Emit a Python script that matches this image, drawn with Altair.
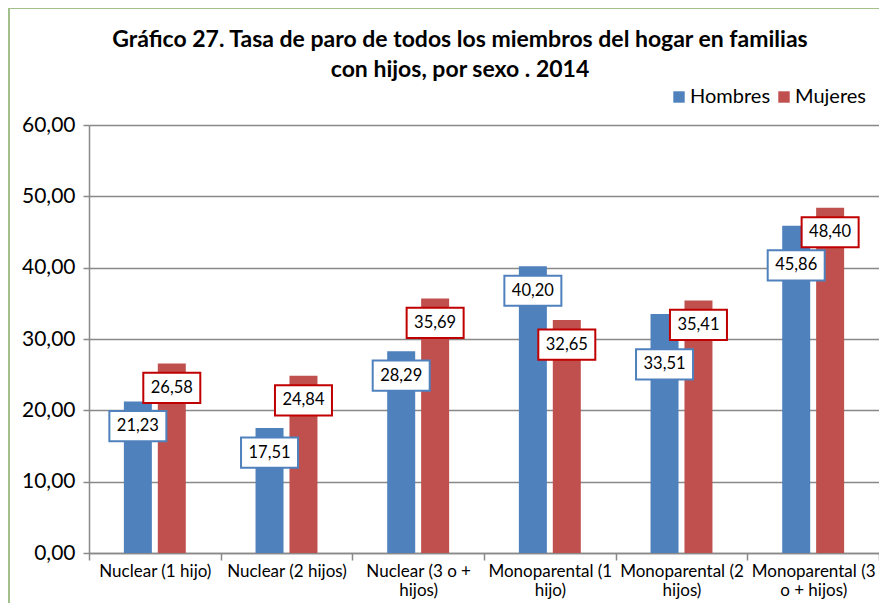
import altair as alt
import pandas as pd

# ---- data ----
categories = [
    "Nuclear (1 hijo)",
    "Nuclear (2 hijos)",
    "Nuclear (3 o + hijos)",
    "Monoparental (1 hijo)",
    "Monoparental (2 hijos)",
    "Monoparental (3 o + hijos)",
]
label_lines = {
    "Nuclear (1 hijo)": ["Nuclear (1 hijo)"],
    "Nuclear (2 hijos)": ["Nuclear (2 hijos)"],
    "Nuclear (3 o + hijos)": ["Nuclear (3 o +", "hijos)"],
    "Monoparental (1 hijo)": ["Monoparental (1", "hijo)"],
    "Monoparental (2 hijos)": ["Monoparental (2", "hijos)"],
    "Monoparental (3 o + hijos)": ["Monoparental (3", "o + hijos)"],
}
series = ["Hombres", "Mujeres"]
hombres = [21.23, 17.51, 28.29, 40.20, 33.51, 45.86]
mujeres = [26.58, 24.84, 35.69, 32.65, 35.41, 48.40]
y_ticks = [0, 10, 20, 30, 40, 50, 60]
title_lines = [
    "Gráfico 27. Tasa de paro de todos los miembros del hogar en familias",
    "con hijos, por sexo . 2014",
]

# ---- styling ----
bar_colors = ["#4F81BD", "#C0504D"]
box_colors = ["#4F81BD", "#C00000"]
FONT = "Lato"
GREY = "#898989"
PLOT_W, PLOT_H, Y_MAX = 790, 428, 60
LABEL_DROP_PX = 24.5                 # label boxes sit just inside the bar end
hombres_label_nudge_px = [0, 0, 0, 0, 26, 15]   # extra drop used in the original to avoid overlaps
mujeres_label_nudge_px = [0, 0, 0, 0, 0, 0]

rows = []
for c, h, m, nh, nm in zip(categories, hombres, mujeres,
                            hombres_label_nudge_px, mujeres_label_nudge_px):
    rows.append({"cat": c, "sexo": "Hombres", "v": h, "nudge": nh})
    rows.append({"cat": c, "sexo": "Mujeres", "v": m, "nudge": nm})
df = pd.DataFrame(rows)

px_per_unit = PLOT_H / Y_MAX
box_calc = f"datum.v - (({LABEL_DROP_PX} + datum.nudge) / {px_per_unit})"

# multi-line x labels
expr = "datum.label"
for k in reversed(categories):
    lines = ",".join("'" + s + "'" for s in label_lines[k])
    expr = f"datum.label == '{k}' ? [{lines}] : ({expr})"

x_enc = alt.X(
    "cat:N",
    sort=categories,
    scale=alt.Scale(paddingInner=0, paddingOuter=0),
    axis=alt.Axis(
        title=None, labelAngle=0, tickBand="extent", labelExpr=expr,
        labelFont=FONT, labelFontSize=17, labelColor="black",
        labelLineHeight=19, labelPadding=3, labelLimit=300,
        tickColor=GREY, tickSize=7, tickWidth=1.5,
        domainColor=GREY, domainWidth=1.5, grid=False,
    ),
)
xo_enc = alt.XOffset(
    "sexo:N", sort=series,
    scale=alt.Scale(paddingInner=0.12, paddingOuter=1),
)
y_scale = alt.Scale(domain=[0, Y_MAX])
y_axis = alt.Axis(
    title=None, values=y_ticks,
    labelExpr="replace(format(datum.value, '.2f'), '.', ',')",
    labelFont=FONT, labelFontSize=21, labelColor="black",
    labelPadding=8, tickSize=6, tickColor=GREY, tickWidth=1.5,
    domainColor=GREY, domainWidth=1.5,
    grid=True, gridColor=GREY, gridWidth=1.5,
)

base = alt.Chart(df).encode(x=x_enc, xOffset=xo_enc)

bars = base.mark_bar(width=28).encode(
    y=alt.Y("v:Q", scale=y_scale, axis=y_axis, title=None),
    color=alt.Color(
        "sexo:N", sort=series,
        scale=alt.Scale(domain=series, range=bar_colors),
        legend=alt.Legend(
            title=None, orient="none", legendX=580, legendY=-38,
            direction="horizontal", symbolType="square", symbolSize=130,
            symbolStrokeWidth=0, labelFont=FONT, labelFontSize=20,
            labelColor="black", columnPadding=3, labelOffset=1,
        ),
    ),
)

boxes = base.transform_calculate(v_box=box_calc).mark_point(
    shape="M-1,-0.53L1,-0.53L1,0.53L-1,0.53Z",
    size=57 * 57, filled=True, fill="white", strokeWidth=2, opacity=1,
).encode(
    y=alt.Y("v_box:Q", scale=y_scale, axis=y_axis, title=None),
    stroke=alt.Stroke("sexo:N", scale=alt.Scale(domain=series, range=box_colors), legend=None),
)

labels = base.transform_calculate(
    v_box=box_calc,
    txt="replace(format(datum.v, '.2f'), '.', ',')",
).mark_text(font=FONT, fontSize=16.5, color="black", baseline="middle").encode(
    y=alt.Y("v_box:Q", scale=y_scale, axis=y_axis, title=None),
    text="txt:N",
)

frame_df = pd.DataFrame({"a": [0]})
frame_top = alt.Chart(frame_df).mark_rule(color="#A4C08A", strokeWidth=2).encode(
    x=alt.value(-80), x2=alt.value(PLOT_W), y=alt.value(-117)
)
frame_left = alt.Chart(frame_df).mark_rule(color="#A4C08A", strokeWidth=2).encode(
    x=alt.value(-80), y=alt.value(-117), y2=alt.value(490)
)

chart = alt.layer(bars, boxes, labels, frame_top, frame_left).properties(
    width=PLOT_W, height=PLOT_H,
    autosize=alt.AutoSizeParams(type="none"),
    padding={"left": 81, "top": 117, "right": 0, "bottom": 50},
    title=alt.Title(
        title_lines, font=FONT, fontSize=23, fontWeight="bold", color="black",
        anchor="middle", dx=-24, offset=-75, lineHeight=30,
    ),
).configure_view(stroke=None)

chart.save("out.html", embed_options={"renderer": "svg", "actions": False})
